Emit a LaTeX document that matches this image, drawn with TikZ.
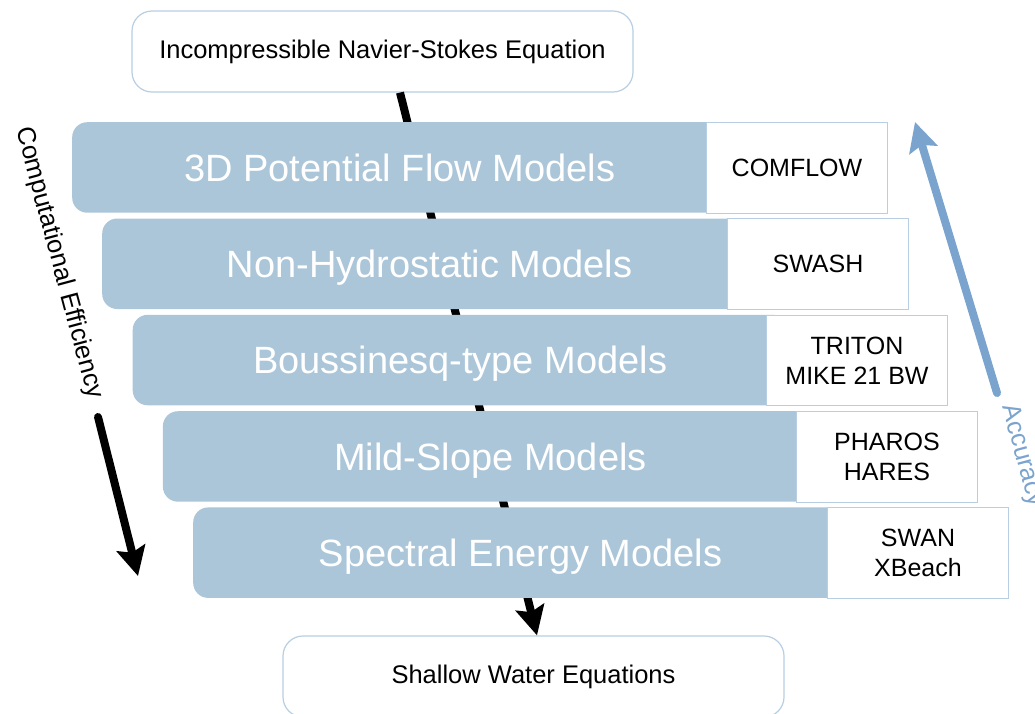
\documentclass[tikz,border=0pt]{standalone}
\usepackage{fontspec}
\setmainfont{Liberation Sans}
\usetikzlibrary{arrows.meta,calc}
\definecolor{barblue}{RGB}{172,198,217}
\definecolor{edgeblue}{RGB}{184,206,226}
\definecolor{accblue}{RGB}{122,163,206}
\begin{document}
\begin{tikzpicture}[x=1pt,y=-1pt,
  eqbox/.style={draw=edgeblue, line width=1.2pt, fill=white, rounded corners=20pt,
    minimum width=501pt, minimum height=81pt, inner sep=0pt,
    font=\fontsize{25.5}{30}\selectfont},
  bar/.style={fill=barblue, rounded corners=15pt, anchor=north west,
    minimum width=655pt, minimum height=90.5pt, inner sep=0pt, text=white,
    text height=27.5pt, text depth=0pt, font=\fontsize{38}{44}\selectfont},
  tool/.style={fill=white, draw=edgeblue, line width=1pt, anchor=north west,
    minimum width=181pt, minimum height=90.5pt, inner sep=0pt, align=center,
    font=\fontsize{25}{30}\selectfont},
  bigarrow/.style={line width=8pt, -{Stealth[length=29pt,width=29pt,inset=5pt]}},
  sidetext/.style={rotate=-75, inner sep=0pt, font=\fontsize{25.5}{30}\selectfont},
]
\useasboundingbox (0,0) rectangle (1035,713);

% equation boxes
\node[eqbox] (nse) at (382.5,51.5) {Incompressible Navier-Stokes Equation};
\node[eqbox] (swe) at (533.5,676.5) {Shallow Water Equations};

% central arrow (behind the bars)
\draw[bigarrow] ($(nse.south)+(17.5,0)$) -- ($(swe.north)+(3.5,0)$);

% model bars
\node[bar] (b1) at (72,122)    {3D Potential Flow Models};
\node[bar] (b2) at (102,218.3) {Non-Hydrostatic Models};
\node[bar] (b3) at (132.5,314.6) {Boussinesq-type Models};
\node[bar] (b4) at (162.7,411) {Mild-Slope Models};
\node[bar] (b5) at (193,507.2) {Spectral Energy Models};

% tool boxes
\node[tool] (t1) at (706,122)   {COMFLOW};
\node[tool] (t2) at (727,218.3) {SWASH};
\node[tool] (t3) at (766,314.6) {TRITON\\MIKE 21 BW};
\node[tool] (t4) at (796,411)   {PHAROS\\HARES};
\node[tool] (t5) at (827,507.2) {SWAN\\XBeach};

% computational efficiency
\node[sidetext] (ce) at (59,263) {Computational Efficiency};
\coordinate (ce1) at (98,417);
\coordinate (ce2) at (138,576);
\draw[bigarrow, line cap=round] (ce1) -- (ce2);

% accuracy
\node[sidetext, text=accblue] (acc) at (1022,456) {Accuracy};
\coordinate (ac1) at (997,393);
\coordinate (ac2) at (915,122);
\draw[bigarrow, line cap=round, draw=accblue, fill=accblue] (ac1) -- (ac2);
\end{tikzpicture}
\end{document}
